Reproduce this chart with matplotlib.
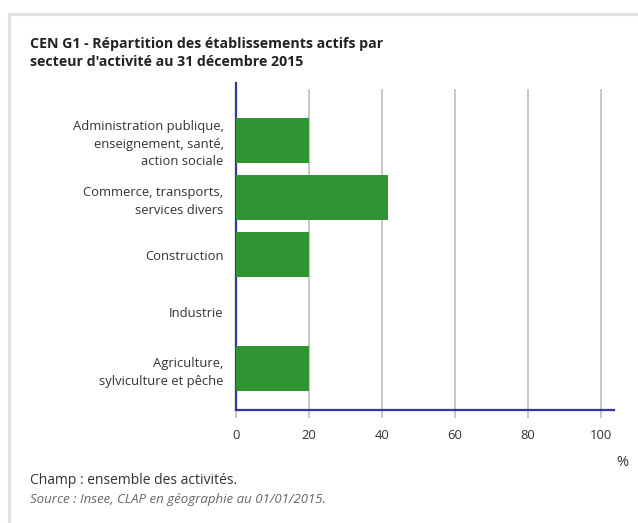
import matplotlib.pyplot as plt
from matplotlib.lines import Line2D

plt.rcParams['font.family'] = ['Open Sans', 'DejaVu Sans']

# Données
secteurs = ["Agriculture,\nsylviculture et pêche",
            "Industrie",
            "Construction",
            "Commerce, transports,\nservices divers",
            "Administration publique,\nenseignement, santé,\naction sociale"]
valeurs = [20.0, 0.0, 20.0, 41.7, 20.0]
graduations = [0, 20, 40, 60, 80, 100]

vert = "#2f9533"
bleu = "#3535a5"
gris = "#bdbdbd"

fig = plt.figure(figsize=(6.38, 5.23), dpi=100)

# Bordure légère (haut et gauche seulement)
fig.lines.append(Line2D([9 / 638, 9 / 638, 1], [0, 1 - 14 / 523, 1 - 14 / 523],
                        transform=fig.transFigure, color="#e0e0e0",
                        linewidth=2.2))

ax = fig.add_axes([236 / 638, 1 - 410 / 523, 378 / 638, 327 / 523])
pos = range(len(secteurs))
ax.barh(pos, valeurs, height=0.79, color=vert, zorder=3)

ax.set_xlim(0, 103.6)
ax.set_ylim(-0.728, 5.009)
ax.set_xticks(graduations)
ax.set_yticks(list(pos))
ax.set_yticklabels(secteurs, fontsize=9.4, color="#333333", linespacing=1.45)
ax.tick_params(axis="y", length=0, pad=9)
ax.tick_params(axis="x", length=6, color=gris, width=1.2, labelsize=9.4,
               labelcolor="#333333", pad=8)

for g in graduations[1:]:
    ax.axvline(g, ymax=0.98, color=gris, linewidth=1.2, zorder=1)

for s in ["top", "right"]:
    ax.spines[s].set_visible(False)
ax.spines["left"].set_color(bleu)
ax.spines["bottom"].set_color(bleu)
ax.spines["left"].set_linewidth(1.6)
ax.spines["bottom"].set_linewidth(1.6)

fig.text(30 / 638, 1 - 53 / 523,
         "CEN G1 - Répartition des établissements actifs par\nsecteur d'activité au 31 décembre 2015",
         fontsize=10.2, fontweight="bold", color="#222222", va="center",
         linespacing=1.3)
fig.text(628 / 638, 1 - 463 / 523, "%", fontsize=10.5, color="#333333",
         ha="right", va="center")
fig.text(30 / 638, 1 - 481 / 523, "Champ : ensemble des activités.",
         fontsize=10, color="#333333", va="center")
fig.text(30 / 638, 1 - 500 / 523,
         "Source : Insee, CLAP en géographie au 01/01/2015.",
         fontsize=9.5, color="#666666", style="italic", va="center")

fig.savefig("out.png", dpi=100)
